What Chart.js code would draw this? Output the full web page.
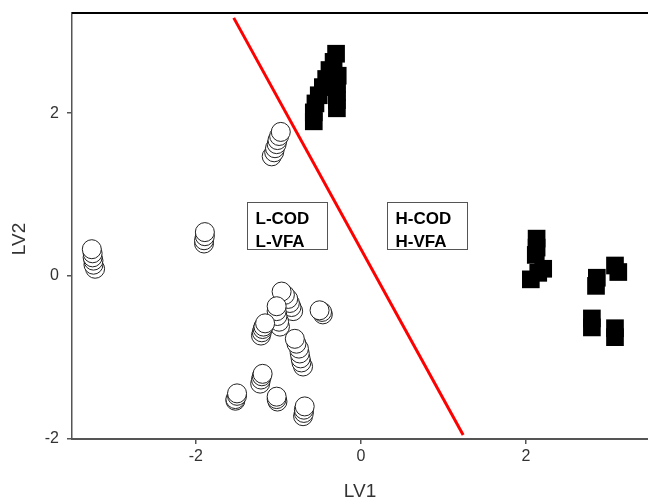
<!DOCTYPE html>
<html>
<head>
<meta charset="utf-8">
<script src="https://cdn.jsdelivr.net/npm/chart.js@4/dist/chart.umd.min.js"></script>
<style>
html,body{margin:0;padding:0;background:#fff;}
#wrap{width:648px;height:502px;}
</style>
</head>
<body>
<div id="wrap"><canvas id="c" width="648" height="502"></canvas></div>
<script>
// ---- data ----
const xTicks = [-2, 0, 2];
const yTicks = [-2, 0, 2];
const xTitle = "LV1";
const yTitle = "LV2";

// low group (open circles), listed in drawing order
const lowX = [
  -3.22,-3.24,-3.24,-3.25,-3.25,-3.26,
  -1.90,-1.90,-1.89,-1.89,
  -1.08,-1.05,-1.04,-1.02,-1.01,-0.99,-0.97,
  -0.82,-0.84,-0.86,-0.88,-0.92,-0.96,
  -0.98,-0.99,-1.01,-1.02,-1.02,
  -1.21,-1.20,-1.19,-1.18,-1.16,
  -0.46,-0.47,-0.50,
  -0.70,-0.72,-0.73,-0.74,-0.75,-0.78,-0.80,
  -1.22,-1.21,-1.20,-1.19,
  -1.52,-1.52,-1.50,-1.50,
  -1.01,-1.02,-1.02,
  -0.70,-0.69,-0.69,-0.68
];
const lowY = [
  0.09,0.14,0.19,0.23,0.28,0.33,
  0.40,0.44,0.49,0.54,
  1.47,1.52,1.57,1.62,1.67,1.72,1.77,
  -0.43,-0.38,-0.33,-0.28,-0.23,-0.19,
  -0.62,-0.56,-0.49,-0.43,-0.37,
  -0.73,-0.69,-0.65,-0.62,-0.58,
  -0.47,-0.44,-0.42,
  -1.11,-1.06,-1.01,-0.95,-0.89,-0.83,-0.77,
  -1.32,-1.27,-1.23,-1.20,
  -1.53,-1.51,-1.47,-1.44,
  -1.54,-1.51,-1.48,
  -1.72,-1.68,-1.64,-1.60
];

// high group (filled squares)
const highX = [
  -0.57,-0.57,-0.55,-0.51,-0.46,-0.42,-0.38,-0.33,-0.30,
  -0.29,-0.29,-0.29,-0.29,-0.28,
  2.13,2.13,2.12,2.21,2.15,2.06,
  3.08,3.12,2.86,2.85,2.80,2.80,3.08,3.08
];
const highY = [
  1.90,2.01,2.12,2.22,2.32,2.42,2.53,2.63,2.73,
  2.06,2.16,2.26,2.36,2.46,
  0.46,0.35,0.26,0.09,0.04,-0.04,
  0.13,0.05,-0.02,-0.12,-0.52,-0.63,-0.64,-0.75
];

// separating line (endpoints)
const lineX = [-1.54, 1.24];
const lineY = [3.17, -1.95];

// region labels
const regionLabels = [["L-COD","L-VFA"],["H-COD","H-VFA"]];
const regionX = [-0.89, 0.80];
const regionY = [0.62, 0.62];

const toPts = (xs, ys) => xs.map((x, i) => ({x: x, y: ys[i]}));
const FONT = "'Liberation Sans', Arial, sans-serif";

const decor = {
  id: 'decor',
  afterDatasetsDraw(chart) {
    const ctx = chart.ctx, xs = chart.scales.x, ys = chart.scales.y;
    ctx.save();
    regionLabels.forEach((lines, i) => {
      const cx = xs.getPixelForValue(regionX[i]);
      const cy = ys.getPixelForValue(regionY[i]);
      const w = 80, h = 47;
      const left = Math.round(cx - w / 2) + 0.5, top = Math.round(cy - h / 2) + 0.5;
      ctx.fillStyle = '#fff';
      ctx.fillRect(left, top, w, h);
      ctx.strokeStyle = '#555';
      ctx.lineWidth = 1;
      ctx.strokeRect(left, top, w, h);
      ctx.fillStyle = '#000';
      ctx.font = "bold 17px " + FONT;
      ctx.textAlign = 'left';
      ctx.textBaseline = 'alphabetic';
      lines.forEach((t, j) => ctx.fillText(t, left + 8, top + 21 + j * 23));
    });
    ctx.restore();
  },
  afterDraw(chart) {
    const ctx = chart.ctx, ca = chart.chartArea;
    ctx.save();
    ctx.strokeStyle = '#000';
    ctx.lineWidth = 2;
    ctx.beginPath();
    ctx.moveTo(ca.left, ca.top);
    ctx.lineTo(ca.right, ca.top);
    ctx.stroke();
    ctx.fillStyle = '#333';
    ctx.font = "19px " + FONT;
    ctx.textAlign = 'center';
    ctx.textBaseline = 'middle';
    ctx.translate(20, (ca.top + ca.bottom) / 2 + 13);
    ctx.rotate(-Math.PI / 2);
    ctx.fillText(yTitle, 0, 0);
    ctx.restore();
  }
};

new Chart(document.getElementById('c'), {
  type: 'scatter',
  data: {
    datasets: [
      {
        type: 'line',
        data: toPts(lineX, lineY),
        borderColor: '#ff0000',
        borderWidth: 3,
        pointRadius: 0,
        showLine: true,
        fill: false,
        order: 0
      },
      {
        data: toPts(highX, highY),
        pointStyle: 'rect',
        pointRadius: 12.5,
        backgroundColor: '#000',
        borderColor: '#000',
        borderWidth: 0,
        order: 2
      },
      {
        data: toPts(lowX, lowY),
        pointStyle: 'circle',
        pointRadius: 9.5,
        backgroundColor: '#fff',
        borderColor: '#222',
        borderWidth: 1,
        order: 1
      }
    ]
  },
  options: {
    responsive: false,
    animation: false,
    events: [],
    layout: { autoPadding: false, padding: { top: 13, right: 0, left: 0, bottom: 0 } },
    plugins: { legend: { display: false }, tooltip: { enabled: false } },
    scales: {
      x: {
        type: 'linear',
        min: -3.5,
        max: 3.48,
        afterBuildTicks: s => { s.ticks = xTicks.map(v => ({ value: v })); },
        afterFit: s => { s.height = 63; s.paddingLeft = 0; s.paddingRight = 0; },
        grid: { drawOnChartArea: false, drawTicks: true, tickLength: 5, color: '#555', lineWidth: 1.5 },
        border: { color: '#555', width: 2 },
        ticks: { color: '#333', font: { size: 16, family: FONT }, padding: 3, maxRotation: 0 },
        title: { display: true, text: xTitle, color: '#333', font: { size: 19, family: FONT }, padding: { top: 0, bottom: -1 } }
      },
      y: {
        type: 'linear',
        min: -2,
        max: 3.23,
        afterBuildTicks: s => { s.ticks = yTicks.map(v => ({ value: v })); },
        afterFit: s => { s.width = 72; s.paddingTop = 0; s.paddingBottom = 0; },
        grid: { drawOnChartArea: false, drawTicks: true, tickLength: 5, color: '#555', lineWidth: 1.5 },
        border: { color: '#555', width: 1.5 },
        ticks: { color: '#333', font: { size: 16, family: FONT }, padding: 8 },
        title: { display: false }
      }
    }
  },
  plugins: [decor]
});
</script>
</body>
</html>
